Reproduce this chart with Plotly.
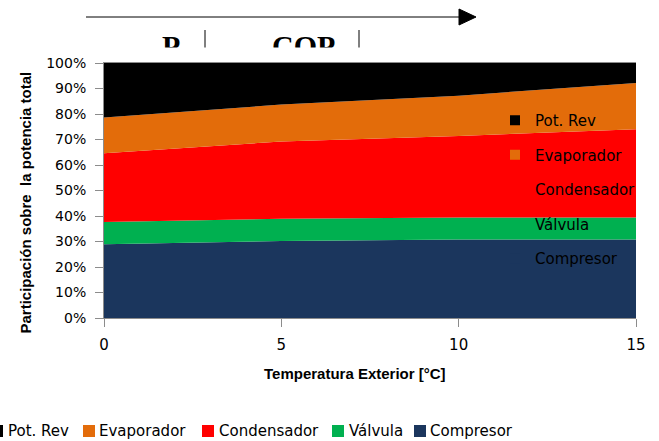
import plotly.graph_objects as go

# ---- data ----
temperatura = [0, 5, 10, 15]
compresor = [28.9, 30.2, 30.8, 30.8]
valvula = [8.7, 8.7, 8.6, 8.6]
condensador = [27.0, 30.3, 32.0, 34.6]
evaporador = [14.0, 14.5, 15.8, 18.2]
pot_rev = [21.4, 16.3, 12.8, 7.8]
y_tick_vals = [0, 10, 20, 30, 40, 50, 60, 70, 80, 90, 100]
y_tick_text = ["0%", "10%", "20%", "30%", "40%", "50%", "60%", "70%", "80%", "90%", "100%"]
x_tick_vals = [0, 5, 10, 15]

series = [
    ("Compresor", compresor, "#1B365D"),
    ("Válvula", valvula, "#00B050"),
    ("Condensador", condensador, "#FF0000"),
    ("Evaporador", evaporador, "#E36C0A"),
    ("Pot. Rev", pot_rev, "#000000"),
]

W, H = 659, 441
L, R, T, B = 104, 23, 63, 123
PW, PH = W - L - R, H - T - B


def px(xp):
    return (xp - L) / PW


def py(yp):
    return (H - B - yp) / PH


fig = go.Figure()
for name, vals, col in series:
    fig.add_trace(go.Scatter(
        x=temperatura, y=vals, name=name, stackgroup="one",
        mode="lines", line=dict(width=0, color=col), fillcolor=col,
        showlegend=False, hoverinfo="x+y+name"))

# inside legend entries
for name, vals, col in reversed(series):
    fig.add_trace(go.Scatter(
        x=[None], y=[None], mode="markers", name=name,
        marker=dict(symbol="square", size=10, color=col),
        legendgroup=name, showlegend=True))

font_main = "DejaVu Sans"
grey = "#8C8C8C"

fig.update_layout(
    width=W, height=H,
    margin=dict(l=L, r=R, t=T, b=B, autoexpand=False),
    plot_bgcolor="white", paper_bgcolor="white",
    font=dict(family=font_main, size=14, color="black"),
    xaxis=dict(
        range=[0, 15], tickvals=x_tick_vals, ticks="outside", ticklen=8,
        tickcolor=grey, showline=True, linecolor=grey, mirror=True,
        showgrid=False, zeroline=False, ticklabelstandoff=5,
        tickfont=dict(family=font_main, size=15),
    ),
    yaxis=dict(
        range=[0, 100], tickvals=y_tick_vals, ticktext=y_tick_text, ticks="outside",
        ticklen=8, tickcolor=grey, showline=True, linecolor=grey,
        showgrid=False, zeroline=False, ticklabelstandoff=6,
        tickfont=dict(family=font_main, size=14),
    ),
    legend=dict(
        x=px(495), y=py(104), xanchor="left", yanchor="top",
        bgcolor="rgba(0,0,0,0)", traceorder="grouped", tracegroupgap=12,
        font=dict(family=font_main, size=15, color="black"),
    ),
)

# axis titles placed as in the reference
fig.add_annotation(text="<b>Participación sobre  la potencia total</b>",
                   xref="paper", yref="paper", x=px(24.5), y=py(203),
                   xanchor="center", yanchor="middle", textangle=-90, showarrow=False,
                   font=dict(family="Liberation Sans", size=15, color="black"))
fig.add_annotation(text="<b>Temperatura Exterior [°C]</b>",
                   xref="paper", yref="paper", x=px(355), y=py(373),
                   xanchor="center", yanchor="middle", showarrow=False,
                   font=dict(family="Liberation Sans", size=15, color="black"))

# bottom legend (as drawn in the reference, partly cut at the left edge)
bottom_text_x = [6, 97, 217, 347, 428]
bottom_marker_x = [-9, 83, 202, 332, 414]
for (name, vals, col), tx, mx in zip(reversed(series), bottom_text_x, bottom_marker_x):
    fig.add_shape(type="rect", xref="paper", yref="paper",
                  x0=px(mx), x1=px(mx + 12), y0=py(437), y1=py(425),
                  fillcolor=col, line=dict(width=0))
    fig.add_annotation(text=name, xref="paper", yref="paper", x=px(tx), y=py(431),
                       xanchor="left", yanchor="middle", showarrow=False,
                       font=dict(family=font_main, size=15, color="black"))

# top arrow
fig.add_shape(type="line", xref="paper", yref="paper",
              x0=px(86), x1=px(462), y0=py(17), y1=py(17),
              line=dict(color="black", width=1))
fig.add_shape(type="path", xref="paper", yref="paper",
              path=f"M {px(476)} {py(17)} L {px(459)} {py(9)} L {px(459)} {py(25)} Z",
              fillcolor="black", line=dict(color="black", width=1))
# small vertical marks
for xv in [205, 359]:
    fig.add_shape(type="line", xref="paper", yref="paper",
                  x0=px(xv), x1=px(xv), y0=py(30), y1=py(48),
                  line=dict(color="black", width=1))

# clipped labels
fig.add_annotation(text="<b>P</b>", xref="paper", yref="paper",
                   x=px(171), y=py(45), xanchor="center", yanchor="middle",
                   showarrow=False, font=dict(family="Liberation Serif", size=30, color="black"))
fig.add_annotation(text="<b>COP</b>", xref="paper", yref="paper",
                   x=px(303), y=py(45), xanchor="center", yanchor="middle",
                   showarrow=False, font=dict(family="Liberation Serif", size=30, color="black"))
# white band hiding the lower part of the labels
fig.add_annotation(text=" ", xref="paper", yref="paper",
                   x=px(260), y=py(54.5), xanchor="center", yanchor="middle",
                   width=200, height=13, bgcolor="white", borderpad=0,
                   showarrow=False, font=dict(size=10))

fig.write_html("out.html", config={"displayModeBar": False},
               post_script="document.body.style.margin='0';")
